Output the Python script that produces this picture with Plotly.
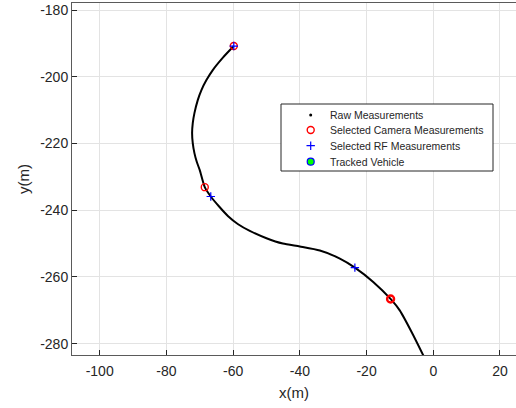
import plotly.graph_objects as go

# Trajectory (raw measurements, dense)
traj_x = [-59.8, -63.0, -66.1, -68.0, -69.5, -70.6, -71.6, -72.1, -72.3, -72.1, -71.6, -70.9,
          -70.0, -68.5, -66.7, -64.2, -61.5, -58.5, -55.0, -50.0, -45.1, -40.0, -34.0, -28.0,
          -23.5, -18.0, -12.8, -10.0, -6.5, -3.1, -1.3]
traj_y = [-190.8, -194.2, -198.0, -201.0, -204.0, -207.0, -210.9, -213.9, -216.9, -219.9, -222.9, -225.5,
          -228.0, -233.1, -235.9, -238.9, -241.8, -244.2, -246.2, -248.4, -250.0, -250.9, -252.1, -254.5,
          -257.2, -261.5, -266.6, -270.1, -276.5, -283.3, -287.0]

# Selected camera measurements
cam_x = [-59.8, -68.5, -12.8]
cam_y = [-190.8, -233.1, -266.6]
cam_lw = [1.4, 1.4, 2.4]

# Selected RF measurements
rf_x = [-59.8, -66.7, -23.5]
rf_y = [-190.8, -235.9, -257.2]

x_ticks = [-100, -80, -60, -40, -20, 0, 20]
y_ticks = [-180, -200, -220, -240, -260, -280]

legend_names = ["Raw Measurements", "Selected Camera Measurements",
                "Selected RF Measurements", "Tracked Vehicle"]

font = "Liberation Sans, Arial, sans-serif"
dark = "#262626"

fig = go.Figure()

fig.add_trace(go.Scatter(x=traj_x, y=traj_y, mode="lines",
                         line=dict(color="black", width=2, shape="spline", smoothing=0.6),
                         showlegend=False, hoverinfo="skip"))
fig.add_trace(go.Scatter(x=cam_x, y=cam_y, mode="markers", showlegend=False,
                         marker=dict(symbol="circle-open", color="red", size=7,
                                     line=dict(width=cam_lw, color="red"))))
fig.add_trace(go.Scatter(x=rf_x, y=rf_y, mode="markers", showlegend=False,
                         marker=dict(symbol="cross-thin-open", color="blue", size=6,
                                     line=dict(width=1.2, color="blue"))))

# ---- custom legend drawn on an overlay pixel-axis (x2/y2) ----
L_left, L_right, L_top, L_bot = 281, 493, 104, 171
row_y = [115, 130, 145.7, 161.7]
sym_x = 310.7
txt_x = 328

fig.add_trace(go.Scatter(x=[L_left, L_right, L_right, L_left, L_left],
                         y=[L_top, L_top, L_bot, L_bot, L_top],
                         xaxis="x2", yaxis="y2", mode="lines", fill="toself",
                         fillcolor="white", line=dict(color=dark, width=1),
                         showlegend=False, hoverinfo="skip"))

leg_styles = [
    dict(symbol="circle", color="black", size=3),
    dict(symbol="circle-open", color="red", size=7, line=dict(width=1.4, color="red")),
    dict(symbol="cross-thin-open", color="blue", size=6, line=dict(width=1.2, color="blue")),
    dict(symbol="circle", color="#00ff00", size=7, line=dict(width=1.2, color="blue")),
]
for name, yy, st in zip(legend_names, row_y, leg_styles):
    fig.add_trace(go.Scatter(x=[sym_x], y=[yy], xaxis="x2", yaxis="y2", mode="markers",
                             marker=st, showlegend=False, hoverinfo="skip", cliponaxis=False))
    fig.add_annotation(x=txt_x, y=yy, xref="x2", yref="y2", text=name, showarrow=False,
                       xanchor="left", yanchor="middle",
                       font=dict(family=font, size=10.5, color=dark))

axis_common = dict(
    showgrid=True, gridcolor="#e3e3e3", gridwidth=1,
    showline=True, linecolor="#5a5a5a", linewidth=1,
    ticks="inside", ticklen=5, tickcolor=dark,
    tickfont=dict(family=font, size=14, color=dark),
    zeroline=False,
)

fig.update_layout(
    width=516, height=408,
    margin=dict(l=72, r=0, t=3, b=53),
    plot_bgcolor="white", paper_bgcolor="white",
    showlegend=False,
    xaxis=dict(range=[-108.3, 24.8], tickvals=x_ticks, ticktext=[str(v) for v in x_ticks],
               mirror=True, ticklabelstandoff=3,
               title=dict(text="x(m)", font=dict(family=font, size=15, color=dark), standoff=9),
               **axis_common),
    yaxis=dict(range=[-283.4, -177.9], tickvals=y_ticks, ticktext=[str(v) for v in y_ticks],
               mirror=False,
               title=dict(text="y(m)", font=dict(family=font, size=15, color=dark), standoff=6),
               **axis_common),
    xaxis2=dict(range=[72, 516], overlaying="x", visible=False, fixedrange=True, anchor="y2"),
    yaxis2=dict(range=[355, 3], overlaying="y", visible=False, fixedrange=True, anchor="x2"),
)

fig.write_html("out.html")
